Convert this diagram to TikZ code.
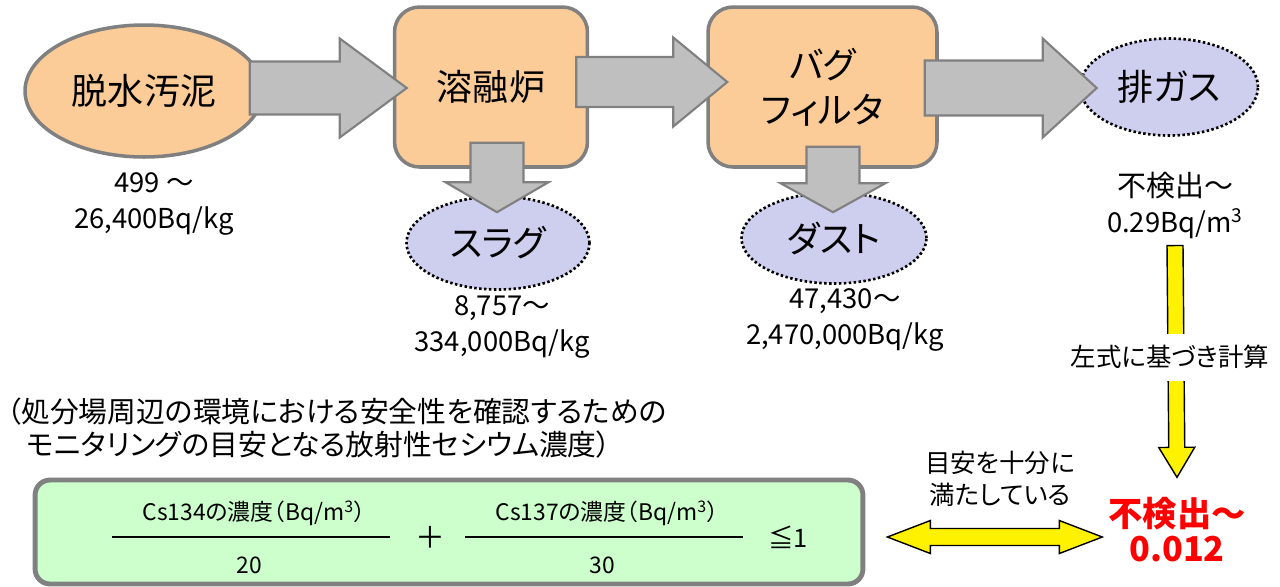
\documentclass[tikz,border=0pt]{standalone}
\usepackage{fontspec}
\setmainfont{Noto Sans CJK JP}[RawFeature=+palt]
\usetikzlibrary{calc, shapes.geometric}

\definecolor{peach}{RGB}{251,203,152}
\definecolor{lavender}{RGB}{206,206,238}
\definecolor{arrowgray}{RGB}{191,191,191}
\definecolor{edgegray}{RGB}{128,128,128}
\definecolor{mint}{RGB}{204,255,204}

% block arrow: [style]{from}{tip}{shaft half width}{head half width}{head length}
\newcommand\blkarrow[6][]{%
  \coordinate (bs) at (#2);
  \coordinate (bt) at (#3);
  \coordinate (bh) at ($(bt)!#6!(bs)$);
  \draw[#1] ($(bs)!#4!90:(bt)$) -- ($(bh)!#4!90:(bt)$) -- ($(bh)!#5!90:(bt)$) -- (bt)
    -- ($(bh)!#5!-90:(bt)$) -- ($(bh)!#4!-90:(bt)$) -- ($(bs)!#4!-90:(bt)$) -- cycle;%
}
% same, with a head at both ends
\newcommand\dblarrow[6][]{%
  \coordinate (bs) at (#2);
  \coordinate (bt) at (#3);
  \coordinate (hl) at ($(bs)!#6!(bt)$);
  \coordinate (hr) at ($(bt)!#6!(bs)$);
  \draw[#1] (bs) -- ($(hl)!#5!90:(bt)$) -- ($(hl)!#4!90:(bt)$) -- ($(hr)!#4!-90:(bs)$)
    -- ($(hr)!#5!-90:(bs)$) -- (bt) -- ($(hr)!#5!90:(bs)$) -- ($(hr)!#4!90:(bs)$)
    -- ($(hl)!#4!-90:(bt)$) -- ($(hl)!#5!-90:(bt)$) -- cycle;%
}

\begin{document}
\begin{tikzpicture}[x=0.02cm, y=-0.02cm,
  procbox/.style={rectangle, rounded corners=0.5cm, draw=edgegray, fill=peach, line width=2pt, align=center, font=\fontsize{20.5}{25.5}\selectfont},
  feedoval/.style={ellipse, draw=edgegray, fill=peach, line width=2pt, font=\fontsize{20.5}{24}\selectfont},
  outoval/.style={ellipse, draw=black, fill=lavender, line width=1.5pt, dash pattern=on 1.4pt off 1.4pt, font=\fontsize{20.5}{24}\selectfont},
  valtext/.style={align=center, font=\fontsize{15.6}{20.5}\selectfont},
  notetext/.style={align=center, font=\fontsize{14.5}{18.2}\selectfont},
  grayarrow/.style={fill=arrowgray, draw=edgegray, line width=1.2pt},
  yelarrow/.style={fill=yellow, draw=black, line width=0.8pt},
  limitbox/.style={rectangle, rounded corners=0.3cm, draw=edgegray, fill=mint, line width=2.8pt},
  fractext/.style={font=\fontsize{13}{15}\selectfont},
  ]

\useasboundingbox (0,0) rectangle (1280,586);

% process chain
\node (sludge) [feedoval, minimum width=4.76cm, minimum height=2.64cm] at (144,91) {脱水汚泥};
\node (furnace) [procbox, minimum width=3.86cm, minimum height=3.2cm] at (491,87) {溶融炉};
\node (bagfilter) [procbox, minimum width=4.58cm, minimum height=3.2cm] at (822.5,87) {バグ\\フィルタ};
\node (slag) [outoval, minimum width=3.66cm, minimum height=1.86cm] at (498,243) {スラグ};
\node (dust) [outoval, minimum width=3.7cm, minimum height=1.82cm] at (834,238) {ダスト};
\node (exhaust) [outoval, minimum width=3.56cm, minimum height=1.94cm] at (1169,87) {排ガス};

\node (sludgeval) [valtext] at (154,204) {499 ～\\26,400Bq/kg};
\node (slagval) [valtext] at (502,327) {8,757～\\334,000Bq/kg};
\node (dustval) [valtext] at (845,320) {47,430～\\2,470,000Bq/kg};
\node (gasval) [valtext] at (1175,205) {{\fontsize{16.5}{20.5}\selectfont 不検出～}\\0.29Bq/m\textsuperscript{3}};

\blkarrow[grayarrow]{$(sludge.east)+(-15,-3)$}{$(furnace.west)+(14,1)$}{0.53cm}{0.99cm}{1.34cm}
\blkarrow[grayarrow]{$(furnace.east)+(-13,-5)$}{$(bagfilter.west)+(21,-5)$}{0.5cm}{0.89cm}{1.08cm}
\blkarrow[grayarrow]{$(bagfilter.east)+(-14,1)$}{$(exhaust.west)+(18,1)$}{0.55cm}{0.99cm}{1.08cm}
\blkarrow[grayarrow]{$(furnace.south)+(6,-26)$}{$(slag.north)+(-1,17)$}{0.53cm}{1.03cm}{0.6cm}
\blkarrow[grayarrow]{$(bagfilter.south)+(10.5,-22)$}{$(dust.north)+(-1,21)$}{0.53cm}{1.05cm}{0.58cm}

% monitoring target
\node (note) [anchor=west, align=left, inner sep=2pt, font=\fontsize{16.4}{18.8}\selectfont] at (3,428)
  {（処分場周辺の環境における安全性を確認するための\\\hspace*{0.7em}モニタリングの目安となる放射性セシウム濃度）};

\node (limit) [limitbox, minimum width=16.56cm, minimum height=2.08cm] at (449,532) {};
\foreach \iso/\den/\cx in {134/20/251, 137/30/604}
{
  \node (num\iso) [fractext] at (\cx+3,513) {Cs\iso の濃度（Bq/m\textsuperscript{3}）};
  \node (den\iso) [fractext] at (\cx-2,565) {\den};
  \draw [line width=1.1pt] (\cx-139,537) -- (\cx+139,537);
}
\node (plus) [font=\fontsize{17}{20}\selectfont] at (430,537) {＋};
\node (bound) [font=\fontsize{14.5}{17}\selectfont] at (788,537) {≦1};

% result
\node (result) [align=center, text=red, font=\bfseries\fontsize{19.5}{20}\selectfont] at (1177,530) {不検出～\\0.012};
\node (satisfy) [notetext] at (1000,479) {目安を十分に\\満たしている};

\blkarrow[yelarrow]{$(gasval.south)+(0,1)$}{$(result.north)+(0,-14)$}{0.16cm}{0.36cm}{0.6cm}
\node (basis) [fill=white, minimum height=0.94cm, inner xsep=2pt, font=\fontsize{14.5}{17}\selectfont] at (1170,357) {左式に基づき計算};
\dblarrow[yelarrow]{$(limit.east)+(22,5)$}{$(result.west)+(0,7)$}{0.17cm}{0.33cm}{0.86cm}

\end{tikzpicture}
\end{document}
